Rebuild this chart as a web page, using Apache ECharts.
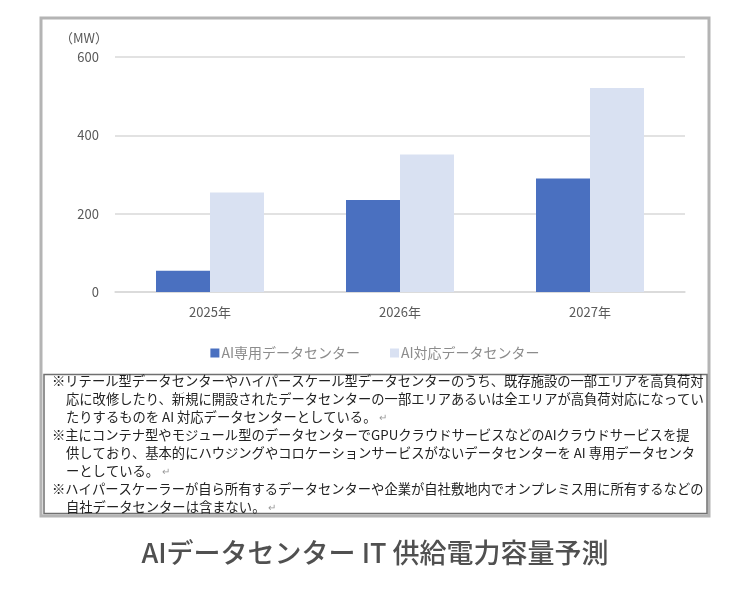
<!DOCTYPE html>
<html>
<head>
<meta charset="utf-8">
<script src="https://cdn.jsdelivr.net/npm/echarts@6/dist/echarts.min.js"></script>
<style>
  html, body { margin: 0; padding: 0; background: #fff; }
  #main { width: 750px; height: 604px; }
</style>
</head>
<body>
<div id="main"></div>
<script>
var chartDom = document.getElementById('main');
var myChart = echarts.init(chartDom);
var option;

// data
var years = ['2025年', '2026年', '2027年'];
var seriesNames = ['AI専用データセンター', 'AI対応データセンター'];
var dedicated = [54, 235, 290];
var ready = [254, 351, 521];
var yTicks = [0, 200, 400, 600];

var noteLines = [
  '※リテール型データセンターやハイパースケール型データセンターのうち、既存施設の一部エリアを高負荷対',
  '応に改修したり、新規に開設されたデータセンターの一部エリアあるいは全エリアが高負荷対応になってい',
  'たりするものを AI 対応データセンターとしている。',
  '※主にコンテナ型やモジュール型のデータセンターでGPUクラウドサービスなどのAIクラウドサービスを提',
  '供しており、基本的にハウジングやコロケーションサービスがないデータセンターを AI 専用データセンタ',
  'ーとしている。',
  '※ハイパースケーラーが自ら所有するデータセンターや企業が自社敷地内でオンプレミス用に所有するなどの',
  '自社データセンターは含まない。'
];
var noteEnds = [false, false, true, false, false, true, false, true];
var chartTitle = 'AIデータセンター IT 供給電力容量予測';

var font = '"Noto Sans CJK JP", "Noto Sans", sans-serif';

var graphics = [
  // outer frame
  { type: 'rect', shape: { x: 41, y: 18, width: 668, height: 498 },
    style: { fill: 'none', stroke: '#b4b4b4', lineWidth: 3 }, z: 0 },
  // notes box
  { type: 'rect', shape: { x: 44, y: 374.5, width: 663, height: 139 },
    style: { fill: '#fff', stroke: '#707070', lineWidth: 1.5 }, z: 1 },
  // title under the chart
  { type: 'text', x: 375, y: 553, z: 2,
    style: { text: chartTitle, fill: '#505050', font: '500 27px ' + font,
      textAlign: 'center', textVerticalAlign: 'middle' } }
];

var noteY = [381, 399, 417, 435, 453, 471, 489, 507];
noteLines.forEach(function (line, i) {
  var indent = line.charAt(0) === '※' ? 52 : 66;
  graphics.push({
    type: 'text', x: indent, y: noteY[i], z: 2,
    style: {
      text: line + (noteEnds[i] ? ' {r|↵}' : ''),
      fill: '#222',
      font: '13.3px ' + font,
      textVerticalAlign: 'middle',
      rich: { r: { fill: '#9a9a9a', fontSize: 10, fontFamily: font } }
    }
  });
});

option = {
  animation: false,
  backgroundColor: '#fff',
  textStyle: { fontFamily: font },
  color: ['#4a70c0', '#d9e1f2'],
  grid: { left: 115, right: 65, top: 57, bottom: 312 },
  legend: {
    data: seriesNames,
    top: 341,
    left: 'center',
    itemWidth: 9,
    itemHeight: 9,
    itemGap: 30,
    icon: 'rect',
    textStyle: { fontSize: 14, color: '#8c8c8c', padding: [0, 0, 0, -3] }
  },
  xAxis: {
    type: 'category',
    data: years,
    axisLine: { lineStyle: { color: '#d9d9d9', width: 1.5 } },
    axisTick: { show: false },
    axisLabel: { fontSize: 13, color: '#595959', margin: 14 }
  },
  yAxis: {
    type: 'value',
    min: yTicks[0],
    max: yTicks[yTicks.length - 1],
    interval: yTicks[1] - yTicks[0],
    name: '（MW）',
    nameLocation: 'end',
    nameGap: 12,
    nameTextStyle: { fontSize: 13, color: '#595959', align: 'right', padding: [0, 7, 0, 0] },
    axisLine: { show: false },
    axisTick: { show: false },
    axisLabel: { fontSize: 13, color: '#595959', margin: 16 },
    splitLine: { lineStyle: { color: '#d9d9d9', width: 1.5 } }
  },
  series: [
    { name: seriesNames[0], type: 'bar', data: dedicated, barWidth: 54, barGap: '0%' },
    { name: seriesNames[1], type: 'bar', data: ready, barWidth: 54, barGap: '0%' }
  ],
  graphic: graphics
};

option && myChart.setOption(option);
</script>
</body>
</html>
